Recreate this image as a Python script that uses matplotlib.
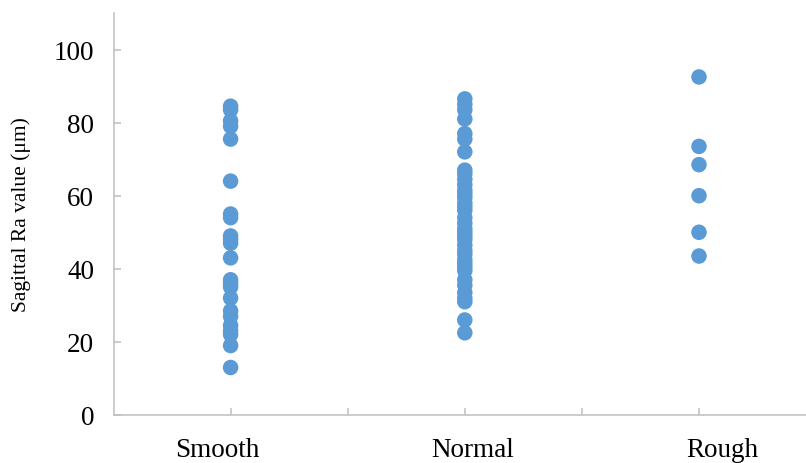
import matplotlib
matplotlib.use("Agg")
import matplotlib.pyplot as plt
from matplotlib.ticker import FixedLocator
from matplotlib.transforms import ScaledTranslation

categories = ["Smooth", "Normal", "Rough"]
smooth = [84.5, 83.5, 80.5, 79, 75.5, 64, 55, 54, 49, 48, 47, 43, 37, 36, 35,
          32, 28.5, 27, 24.5, 23, 22, 19, 13]
normal = [86.5, 85, 83.5, 81, 77, 75.5, 72, 67, 66, 64.5, 63, 61.5, 60.5, 59.5,
          58, 57, 56, 54, 52.5, 51, 50, 49, 48, 46.5, 45, 44, 42.5, 41.5, 40.5,
          39.5, 37, 35.5, 33.5, 32, 31, 26, 22.5]
rough = [92.5, 73.5, 68.5, 60, 50, 43.5]
series = [smooth, normal, rough]
y_ticks = [0, 20, 40, 60, 80, 100]
y_label = "Sagittal Ra value (μm)"

plt.rcParams['font.family'] = ['Liberation Serif', 'DejaVu Serif']

fig = plt.figure(figsize=(8.06, 4.64), dpi=100)
ax = fig.add_axes([113.5 / 806, 48 / 464, (806 - 113.5) / 806, 402 / 464])

color = "#5B9BD5"
for i, vals in enumerate(series):
    ax.scatter([i + 1] * len(vals), vals, s=125, color=color, edgecolors="none",
               zorder=3, clip_on=False)

ax.set_xlim(0.5, 0.5 + 692.5 / 234.2)
ax.set_ylim(0, 110)

ax.xaxis.set_major_locator(FixedLocator([1, 2, 3]))
ax.xaxis.set_minor_locator(FixedLocator([1.5, 2.5]))
ax.set_xticklabels(categories)
ax.set_yticks(y_ticks)

gray = "#BFBFBF"
for s in ["top", "right"]:
    ax.spines[s].set_visible(False)
for s in ["left", "bottom"]:
    ax.spines[s].set_color(gray)
    ax.spines[s].set_linewidth(1.1)

ax.tick_params(axis="x", which="both", direction="in", length=5, width=1.1,
               color=gray, labelsize=19.5, pad=16)
ax.tick_params(axis="y", which="major", direction="in", length=5, width=1.1,
               color=gray, labelsize=19.5, pad=14)

# label offsets in pixels (labels in reference are not exactly centred on ticks)
offsets_px = [-13.5, 8, 23]
for lab, dx in zip(ax.get_xticklabels(), offsets_px):
    lab.set_transform(lab.get_transform() + ScaledTranslation(dx / 100, 0, fig.dpi_scale_trans))

ax.set_ylabel(y_label, fontsize=15.5)
ax.yaxis.set_label_coords(-(113.5 - 31) / 692.5, 0.5)

fig.savefig("out.png", dpi=100)
